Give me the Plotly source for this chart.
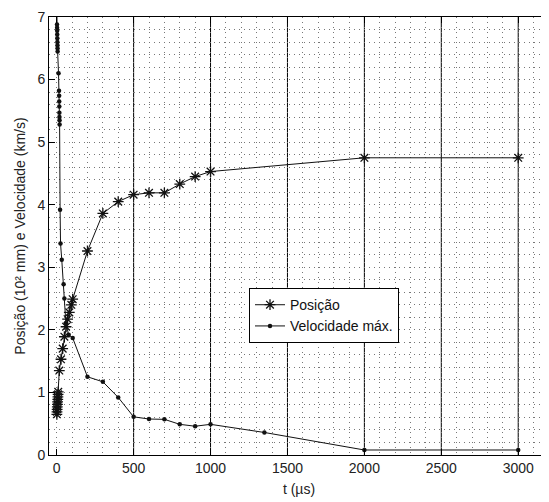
import plotly.graph_objects as go

# Posição (10^2 mm)
t_pos = [1, 2, 3, 4, 5, 6, 7, 8, 9, 10, 17, 28, 39, 50, 61, 71, 82, 95, 104,
         200, 300, 400, 500, 600, 700, 800, 900, 1000, 2000, 3000]
pos = [0.65, 0.69, 0.73, 0.77, 0.81, 0.85, 0.89, 0.93, 0.97, 1.01, 1.35, 1.53,
       1.70, 1.89, 2.05, 2.17, 2.28, 2.40, 2.49,
       3.26, 3.86, 4.05, 4.16, 4.19, 4.19, 4.33, 4.45, 4.53, 4.75, 4.75]

# Velocidade máx. (km/s)
t_vel = [1, 2, 2.5, 3, 3.5, 4, 4.5, 5, 5.5, 6, 12, 15, 16, 16.5, 17, 17.5, 18,
         18.5, 19, 22, 25, 33, 45, 50, 60, 78, 104,
         200, 300, 400, 500, 600, 700, 800, 900, 1000, 1350, 2000, 3000]
vel = [7.1, 6.88, 6.83, 6.78, 6.72, 6.66, 6.60, 6.55, 6.50, 6.45, 6.10, 5.82,
       5.74, 5.65, 5.57, 5.47, 5.40, 5.35, 5.28, 3.92, 3.38, 3.12, 2.73, 2.50,
       2.10, 1.92, 1.87,
       1.25, 1.17, 0.92, 0.61, 0.575, 0.57, 0.49, 0.46, 0.49, 0.36, 0.08, 0.08]

x_ticks = [0, 500, 1000, 1500, 2000, 2500, 3000]
y_ticks = [0, 1, 2, 3, 4, 5, 6, 7]
solid_vlines = [500, 1000, 1500, 2000, 2500, 3000]

FONT = "Liberation Sans, Arial, sans-serif"
DOT = "1px,4px"
GRID = "#777"

fig = go.Figure()
fig.add_trace(go.Scatter(
    x=t_pos, y=pos, mode="lines+markers", name="Posição",
    line=dict(color="#111", width=1),
    marker=dict(symbol="asterisk-open", size=9, color="#111",
                line=dict(color="#111", width=1.3)),
))
fig.add_trace(go.Scatter(
    x=t_vel, y=vel, mode="lines+markers", name="Velocidade máx.",
    line=dict(color="#111", width=1),
    marker=dict(symbol="circle", size=4.5, color="#111"),
))

for xv in solid_vlines:
    fig.add_shape(type="line", xref="x", yref="paper", x0=xv, x1=xv, y0=0, y1=1,
                  line=dict(color="black", width=1), layer="below")

# the page body adds an 8px offset; the figure is sized to fill the rest of the window
fig.update_layout(
    width=541, height=494,
    margin=dict(l=41, r=0, t=9, b=47),
    paper_bgcolor="white", plot_bgcolor="white",
    font=dict(family=FONT, size=14, color="#222"),
    showlegend=True,
    legend=dict(x=0.4, y=0.381, xanchor="left", yanchor="top",
                bgcolor="white", bordercolor="black", borderwidth=1,
                font=dict(family=FONT, size=14, color="#111")),
)
fig.update_xaxes(
    range=[-50, 3200], tickvals=x_ticks, ticktext=[str(v) for v in x_ticks],
    ticks="inside", ticklen=6, tickcolor="black",
    showline=True, linecolor="black", linewidth=1, mirror="ticks",
    showgrid=True, gridcolor=GRID, griddash=DOT, gridwidth=1,
    minor=dict(dtick=100, tick0=0, showgrid=True, gridcolor=GRID, griddash=DOT, gridwidth=1),
    zeroline=False, automargin=False,
    title=dict(text="t (µs)", standoff=9, font=dict(size=14)),
)
fig.update_yaxes(
    range=[0, 7], tickvals=y_ticks, ticktext=[str(v) for v in y_ticks],
    ticks="inside", ticklen=6, tickcolor="black",
    showline=True, linecolor="black", linewidth=1, mirror="ticks",
    showgrid=True, gridcolor=GRID, griddash=DOT, gridwidth=1,
    minor=dict(dtick=0.2, tick0=0, showgrid=True, gridcolor=GRID, griddash=DOT, gridwidth=1),
    zeroline=False, automargin=False,
    title=dict(text="Posição (10² mm) e Velocidade (km/s)", standoff=8, font=dict(size=14)),
)

fig.write_html("out.html")
